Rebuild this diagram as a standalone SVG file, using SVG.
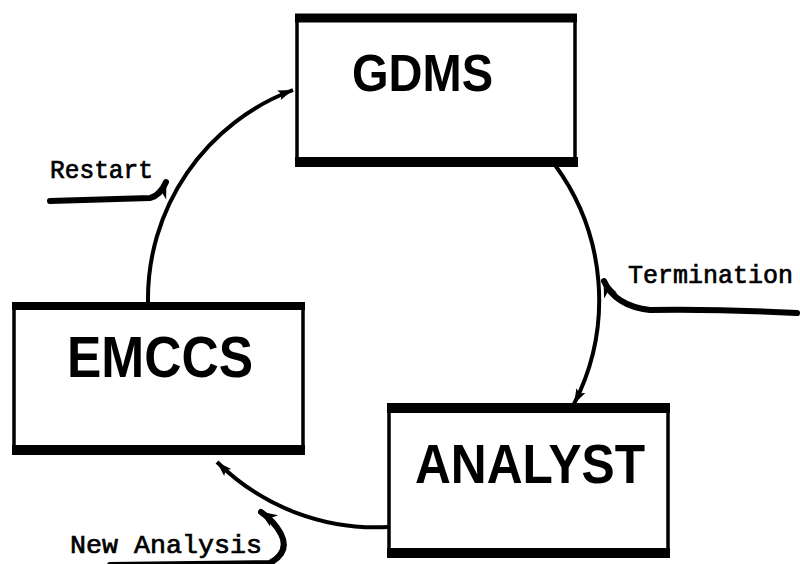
<svg xmlns="http://www.w3.org/2000/svg" width="800" height="564" viewBox="0 0 800 564">
<style>
.box{fill:#fff;stroke:#000;stroke-width:3.5}
.edge{stroke:#000;stroke-width:10;stroke-linecap:butt}
.title{font-family:"Liberation Sans",Arial,sans-serif;font-weight:bold;fill:#000}
.lbl{font-family:"Liberation Mono","Courier New",monospace;font-size:26px;fill:#000;stroke:#000;stroke-width:0.7}
.arc{fill:none;stroke:#000;stroke-width:4}
.side{fill:none;stroke:#000;stroke-width:6;stroke-linecap:round}
</style>
<defs>
<marker id="ah" viewBox="-16 -6 18 12" markerWidth="18" markerHeight="12" refX="0" refY="0" orient="auto" markerUnits="userSpaceOnUse">
<path d="M0,0 L-15,-5 L-12,0 L-15,5 Z" fill="#000"/>
</marker>
<marker id="ahs" viewBox="-18 -8 20 16" markerWidth="20" markerHeight="16" refX="0" refY="0" orient="auto" markerUnits="userSpaceOnUse">
<path d="M1,0 L-16,-7 L-11,0 L-16,7 Z" fill="#000"/>
</marker>
</defs>
<rect width="800" height="564" fill="#fff"/>
<g id="connectors">
<path class="arc" d="M148,302 A223,223 0 0,1 293,90" marker-end="url(#ah)"/>
<path class="arc" d="M555,165 A228,228 0 0,1 574,404" marker-end="url(#ah)"/>
<path class="arc" d="M388,527 A226,226 0 0,1 217,462" marker-end="url(#ah)"/>
<path class="side" d="M50,201 L150,198 Q160,196 166,182" marker-end="url(#ahs)"/>
<path class="side" d="M797,313 Q720,309 650,310 Q615,306 604,281" marker-end="url(#ahs)"/>
<path class="side" d="M110,565 L270,563 Q290,552 281,534 Q274,521 261,512" marker-end="url(#ahs)"/>
</g>
<g id="gdms">
<rect class="box" x="297" y="18" width="278" height="144"/>
<line class="edge" x1="295" y1="18" x2="577" y2="18" style="stroke-width:9"/>
<line class="edge" x1="295" y1="162" x2="578" y2="162"/>
<text class="title" x="352" y="91" font-size="52" textLength="141" lengthAdjust="spacingAndGlyphs">GDMS</text>
</g>
<g id="emccs">
<rect class="box" x="14" y="306" width="289" height="144"/>
<line class="edge" x1="12" y1="306" x2="305" y2="306" style="stroke-width:8"/>
<line class="edge" x1="12" y1="450" x2="305" y2="450"/>
<text class="title" x="67" y="377" font-size="58" textLength="186" lengthAdjust="spacingAndGlyphs">EMCCS</text>
</g>
<g id="analyst">
<rect class="box" x="389" y="408" width="279" height="145"/>
<line class="edge" x1="387" y1="408" x2="670" y2="408"/>
<line class="edge" x1="387" y1="553" x2="670" y2="553"/>
<text class="title" x="415" y="483" font-size="56" textLength="230" lengthAdjust="spacingAndGlyphs">ANALYST</text>
</g>
<g id="labels">
<text class="lbl" x="50" y="178" textLength="103" lengthAdjust="spacingAndGlyphs">Restart</text>
<text class="lbl" x="628" y="283" textLength="165" lengthAdjust="spacingAndGlyphs">Termination</text>
<text class="lbl" x="70" y="553" textLength="192" lengthAdjust="spacingAndGlyphs">New Analysis</text>
</g>
</svg>
